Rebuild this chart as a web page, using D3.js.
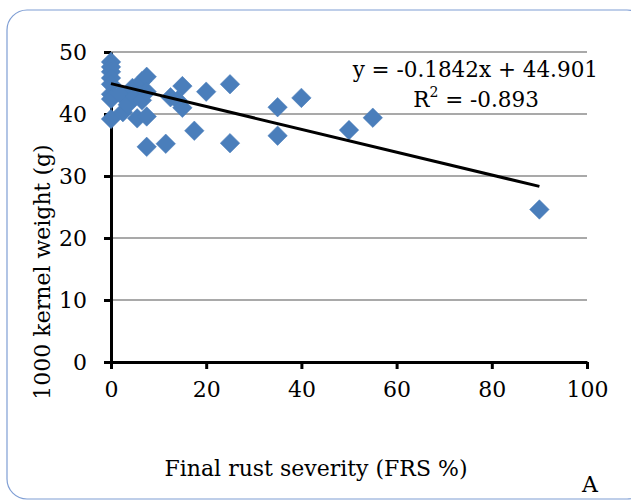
<!DOCTYPE html>
<html>
<head>
<meta charset="utf-8">
<script src="https://cdn.jsdelivr.net/npm/d3@7"></script>
<style>
  body { margin: 0; background: #fff; }
  text { font-family: "DejaVu Serif", serif; fill: #000; }
</style>
</head>
<body>
<svg id="chart"></svg>
<script>
// final rust severity (%) and 1000 kernel weight (g)
const frs = [0, 0, 0, 0, 0, 0, 0, 0,
  2, 2.5, 3.5, 4.5, 5, 5.5, 6.5, 6.5, 7.5, 7.5, 7.5, 7.5,
  11.5, 12.5, 14, 15, 15, 17.5, 20, 25, 25, 35, 35, 40, 50, 55, 90]
const tkw = [48.4, 47.6, 46.8, 45.8, 44.8, 43.2, 42.4, 39.2,
  43.2, 40.3, 41.5, 44.2, 42.8, 39.3, 45.3, 42.2, 46, 43.6, 39.6, 34.7,
  35.2, 42.7, 42.2, 44.5, 41, 37.3, 43.6, 44.8, 35.3, 41.1, 36.5, 42.6, 37.4, 39.4, 24.6]
const xTicks = [0, 20, 40, 60, 80, 100]
const yTicks = [0, 10, 20, 30, 40, 50]
const slope = -0.1842
const intercept = 44.901
const trendX = [0, 90]

const w = 631, h = 502
const font = '"DejaVu Serif", serif'
const svg = d3.select('#chart').attr('width', w).attr('height', h)

// outer frame
svg.append('rect')
  .attr('x', 7).attr('y', 10)
  .attr('width', 640).attr('height', 489)
  .attr('rx', 20)
  .attr('fill', 'none')
  .attr('stroke', '#7f9ed4')
  .attr('stroke-width', 1.2)

const xScale = d3.scaleLinear().domain([0, 100]).range([111, 587])
const yScale = d3.scaleLinear().domain([0, 50]).range([362, 52])

// gridlines
svg.append('g')
  .selectAll('line')
  .data(yTicks.slice(1))
  .enter()
  .append('line')
  .attr('x1', xScale(0)).attr('x2', xScale(100))
  .attr('y1', d => yScale(d)).attr('y2', d => yScale(d))
  .attr('stroke', '#8c8c8c')
  .attr('stroke-width', 1.5)

// axes
const xAxis = d3.axisBottom(xScale).tickValues(xTicks).tickSize(7).tickSizeOuter(0).tickPadding(12)
const yAxis = d3.axisLeft(yScale).tickValues(yTicks).tickSize(7).tickSizeOuter(0).tickPadding(17)

const gx = svg.append('g')
  .attr('transform', `translate(0,${yScale(0)})`)
  .call(xAxis)
const gy = svg.append('g')
  .attr('transform', `translate(${xScale(0)},0)`)
  .call(yAxis)

;[gx, gy].forEach(g => {
  g.select('.domain').attr('stroke', '#000').attr('stroke-width', 3)
  g.selectAll('.tick line').attr('stroke', '#000').attr('stroke-width', 3)
  g.selectAll('.tick text').style('font-family', font).style('font-size', '22px').attr('fill', '#000')
})
gy.selectAll('.tick text').attr('dy', '0.36em')

// points
svg.append('g')
  .selectAll('path')
  .data(frs.map((x, i) => [x, tkw[i]]))
  .enter()
  .append('path')
  .attr('d', d3.symbol().type(d3.symbolSquare).size(190))
  .attr('transform', d => `translate(${xScale(d[0])},${yScale(d[1])}) rotate(45)`)
  .attr('fill', '#4a7ebb')
  .attr('stroke', '#4a7ebb')
  .attr('stroke-width', 0.5)

// trend line
svg.append('line')
  .attr('x1', xScale(trendX[0])).attr('y1', yScale(slope * trendX[0] + intercept))
  .attr('x2', xScale(trendX[1])).attr('y2', yScale(slope * trendX[1] + intercept))
  .attr('stroke', '#000')
  .attr('stroke-width', 3)

// equation
svg.append('text')
  .attr('x', 598).attr('y', 77)
  .attr('text-anchor', 'end')
  .style('font-size', '21.5px')
  .text('y = -0.1842x + 44.901')

const r2 = svg.append('text')
  .attr('x', 476).attr('y', 107)
  .attr('text-anchor', 'middle')
  .style('font-size', '21.5px')
r2.append('tspan').text('R')
r2.append('tspan').attr('dy', -10).style('font-size', '14px').text('2')
r2.append('tspan').attr('dy', 10).text(' = -0.893')

// axis labels
svg.append('text')
  .attr('transform', 'translate(50,272) rotate(-90)')
  .attr('text-anchor', 'middle')
  .style('font-size', '22px')
  .text('1000 kernel weight (g)')

svg.append('text')
  .attr('x', 316).attr('y', 476)
  .attr('text-anchor', 'middle')
  .style('font-size', '22px')
  .text('Final rust severity (FRS %)')

svg.append('text')
  .attr('x', 590).attr('y', 492)
  .attr('text-anchor', 'middle')
  .style('font-size', '22px')
  .text('A')
</script>
</body>
</html>
